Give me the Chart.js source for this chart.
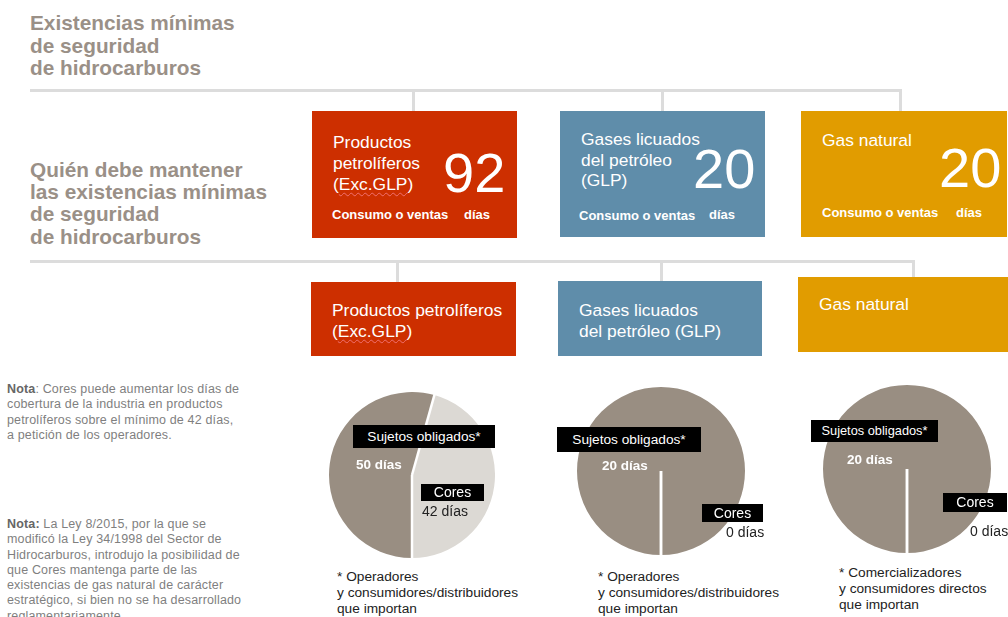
<!DOCTYPE html>
<html lang="es">
<head>
  <meta charset="UTF-8" />
  <title>Existencias mínimas de seguridad de hidrocarburos</title>
  <style>
    * { margin: 0; padding: 0; box-sizing: border-box; }
    body {
      width: 1008px;
      height: 617px;
      position: relative;
      overflow: hidden;
      background: #fff;
      font-family: "Liberation Sans", Arial, sans-serif;
    }
    .abs { position: absolute; white-space: nowrap; }
    .heading { color: #9a9087; font-weight: bold; font-size: 20.8px; line-height: 22.5px; }
    .rule { position: absolute; background: #dcdcdc; }
    .box { position: absolute; }
    .red { background: #cd2f00; }
    .blue { background: #5f8daa; }
    .orange { background: #e19c00; }
    .boxtitle { color: #fff; font-size: 17.4px; line-height: 21px; }
    .big { color: #fff; font-size: 56px; line-height: 56px; }
    .small { color: #fff; font-size: 13px; line-height: 15px; font-weight: bold; }
    .exc { text-decoration: underline wavy #f07070; text-decoration-thickness: 1px; text-underline-offset: 2px; }
    .note { color: #7f7f7f; font-size: 12.5px; line-height: 15.3px; letter-spacing: 0.15px; }
    .note b { color: #666; }
    .foot { color: #222; font-size: 13.7px; line-height: 16px; }
    .tag { position: absolute; background: #000; color: #fff; font-size: 13.7px; text-align: center; white-space: nowrap; }
    .days { position: absolute; font-size: 14px; line-height: 16px; white-space: nowrap; }
    canvas { position: absolute; }
  </style>
</head>
<body>
  <!-- headings -->
  <div class="abs heading" style="left:30px; top:12px;">Existencias mínimas<br>de seguridad<br>de hidrocarburos</div>
  <div class="abs heading" style="left:30px; top:159px; line-height:22.2px;">Quién debe mantener<br>las existencias mínimas<br>de seguridad<br>de hidrocarburos</div>

  <!-- connector rules -->
  <div class="rule" style="left:30px; top:89px; width:872px; height:3px;"></div>
  <div class="rule" style="left:412px; top:90px; width:3px; height:21px;"></div>
  <div class="rule" style="left:661px; top:90px; width:3px; height:21px;"></div>
  <div class="rule" style="left:899px; top:90px; width:3px; height:21px;"></div>
  <div class="rule" style="left:30px; top:260px; width:885px; height:3px;"></div>
  <div class="rule" style="left:396px; top:261px; width:3px; height:21px;"></div>
  <div class="rule" style="left:660px; top:261px; width:3px; height:21px;"></div>
  <div class="rule" style="left:912px; top:261px; width:3px; height:17px;"></div>

  <!-- top boxes -->
  <div class="box red" style="left:312px; top:111px; width:205px; height:127px;"></div>
  <div class="box blue" style="left:560px; top:111px; width:205px; height:126px;"></div>
  <div class="box orange" style="left:801px; top:111px; width:206px; height:126px;"></div>

  <div class="abs boxtitle" style="left:333px; top:132px;">Productos<br>petrolíferos<br>(<span class="exc">Exc.GLP</span>)</div>
  <div class="abs boxtitle" style="left:581px; top:129px; line-height:20.5px;">Gases licuados<br>del petróleo<br>(GLP)</div>
  <div class="abs boxtitle" style="left:822px; top:130px;">Gas natural</div>

  <div class="abs big" id="total0" style="left:443px; top:145px;"></div>
  <div class="abs big" id="total1" style="left:693px; top:141px;"></div>
  <div class="abs big" id="total2" style="left:939px; top:140px;"></div>

  <div class="abs small" style="left:332px; top:207px;">Consumo o ventas</div>
  <div class="abs small" style="left:464px; top:207px;">días</div>
  <div class="abs small" style="left:579px; top:208px;">Consumo o ventas</div>
  <div class="abs small" style="left:709px; top:207px;">días</div>
  <div class="abs small" style="left:822px; top:205px;">Consumo o ventas</div>
  <div class="abs small" style="left:956px; top:205px;">días</div>

  <!-- lower boxes -->
  <div class="box red" style="left:311px; top:282px; width:205px; height:74px;"></div>
  <div class="box blue" style="left:558px; top:281px; width:204px; height:75px;"></div>
  <div class="box orange" style="left:798px; top:277px; width:210px; height:75px;"></div>

  <div class="abs boxtitle" style="left:332px; top:300px; line-height:20.5px;">Productos petrolíferos<br>(<span class="exc">Exc.GLP</span>)</div>
  <div class="abs boxtitle" style="left:579px; top:300px; line-height:20.5px;">Gases licuados<br>del petróleo (GLP)</div>
  <div class="abs boxtitle" style="left:819px; top:294px;">Gas natural</div>

  <!-- notes -->
  <div class="abs note" style="left:7px; top:382px;"><b>Nota</b>: Cores puede aumentar los días de<br>cobertura de la industria en productos<br>petrolíferos sobre el mínimo de 42 días,<br>a petición de los operadores.</div>
  <div class="abs note" style="left:7px; top:517px;"><b>Nota:</b> La Ley 8/2015, por la que se<br>modificó la Ley 34/1998 del Sector de<br>Hidrocarburos, introdujo la posibilidad de<br>que Cores mantenga parte de las<br>existencias de gas natural de carácter<br>estratégico, si bien no se ha desarrollado<br>reglamentariamente.</div>

  <!-- pies -->
  <canvas id="pie0" width="166" height="166" style="left:329px; top:392px;"></canvas>
  <canvas id="pie1" width="168" height="168" style="left:577px; top:387px;"></canvas>
  <canvas id="pie2" width="168" height="168" style="left:823px; top:385px;"></canvas>

  <!-- pie labels -->
  <div class="tag" id="tagS0" style="left:353px; top:425px; width:142px; height:23px; line-height:23px;"></div>
  <div class="days" id="daysS0" style="left:356px; top:457px; color:#fff; font-weight:bold; font-size:13.5px;"></div>
  <div class="tag" id="tagC0" style="left:421px; top:484px; width:63px; height:17px; line-height:17px; font-size:14px;"></div>
  <div class="days" id="daysC0" style="left:422px; top:503px; color:#222;"></div>

  <div class="tag" id="tagS1" style="left:557px; top:427px; width:144px; height:25px; line-height:25px;"></div>
  <div class="days" id="daysS1" style="left:602px; top:458px; color:#fff; font-weight:bold; font-size:13.5px;"></div>
  <div class="tag" id="tagC1" style="left:702px; top:504px; width:61px; height:18px; line-height:18px; font-size:14px;"></div>
  <div class="days" id="daysC1" style="left:726px; top:524px; color:#222;"></div>

  <div class="tag" id="tagS2" style="left:811px; top:420px; width:127px; height:22px; line-height:22px; font-size:12.8px;"></div>
  <div class="days" id="daysS2" style="left:847px; top:452px; color:#fff; font-weight:bold; font-size:13.5px;"></div>
  <div class="tag" id="tagC2" style="left:943px; top:493px; width:64px; height:19px; line-height:19px; font-size:14px;"></div>
  <div class="days" id="daysC2" style="left:970px; top:523px; color:#222;"></div>

  <!-- footnotes -->
  <div class="abs foot" style="left:337px; top:569px;">* Operadores<br>y consumidores/distribuidores<br>que importan</div>
  <div class="abs foot" style="left:598px; top:569px;">* Operadores<br>y consumidores/distribuidores<br>que importan</div>
  <div class="abs foot" style="left:839px; top:565px;">* Comercializadores<br>y consumidores directos<br>que importan</div>

  <script src="https://cdn.jsdelivr.net/npm/chart.js"></script>
  <script>
    // data
    const pieNames = ['Productos petrolíferos (Exc.GLP)', 'Gases licuados del petróleo (GLP)', 'Gas natural'];
    const sliceLabels = ['Sujetos obligados*', 'Cores'];
    const sujetosDays = [50, 20, 20];
    const coresDays = [42, 0, 0];
    const sliceColors = ['#998e82', '#dcd9d4'];

    // white radial lines at every slice start (also shows the 0-day slice)
    const separators = {
      id: 'separators',
      afterDatasetsDraw(chart) {
        const ctx = chart.ctx;
        ctx.save();
        ctx.strokeStyle = '#fff';
        ctx.lineWidth = 2.5;
        chart.getDatasetMeta(0).data.forEach(arc => {
          const p = arc.getProps(['x', 'y', 'startAngle', 'outerRadius'], true);
          ctx.beginPath();
          ctx.moveTo(p.x, p.y);
          ctx.lineTo(p.x + Math.cos(p.startAngle) * (p.outerRadius + 1), p.y + Math.sin(p.startAngle) * (p.outerRadius + 1));
          ctx.stroke();
        });
        ctx.restore();
      }
    };

    pieNames.forEach((name, i) => {
      document.getElementById('total' + i).textContent = sujetosDays[i] + coresDays[i];
      document.getElementById('tagS' + i).textContent = sliceLabels[0];
      document.getElementById('tagC' + i).textContent = sliceLabels[1];
      document.getElementById('daysS' + i).textContent = sujetosDays[i] + ' días';
      document.getElementById('daysC' + i).textContent = coresDays[i] + ' días';

      new Chart(document.getElementById('pie' + i), {
        type: 'pie',
        data: {
          labels: sliceLabels,
          datasets: [{
            label: name,
            data: [sujetosDays[i], coresDays[i]],
            backgroundColor: sliceColors,
            borderWidth: 0,
            hoverOffset: 0,
            offset: 0
          }]
        },
        options: {
          responsive: false,
          animation: false,
          rotation: 180,
          events: [],
          layout: { padding: 0 },
          plugins: {
            legend: { display: false },
            tooltip: { enabled: false }
          }
        },
        plugins: [separators]
      });
    });
  </script>
</body>
</html>
